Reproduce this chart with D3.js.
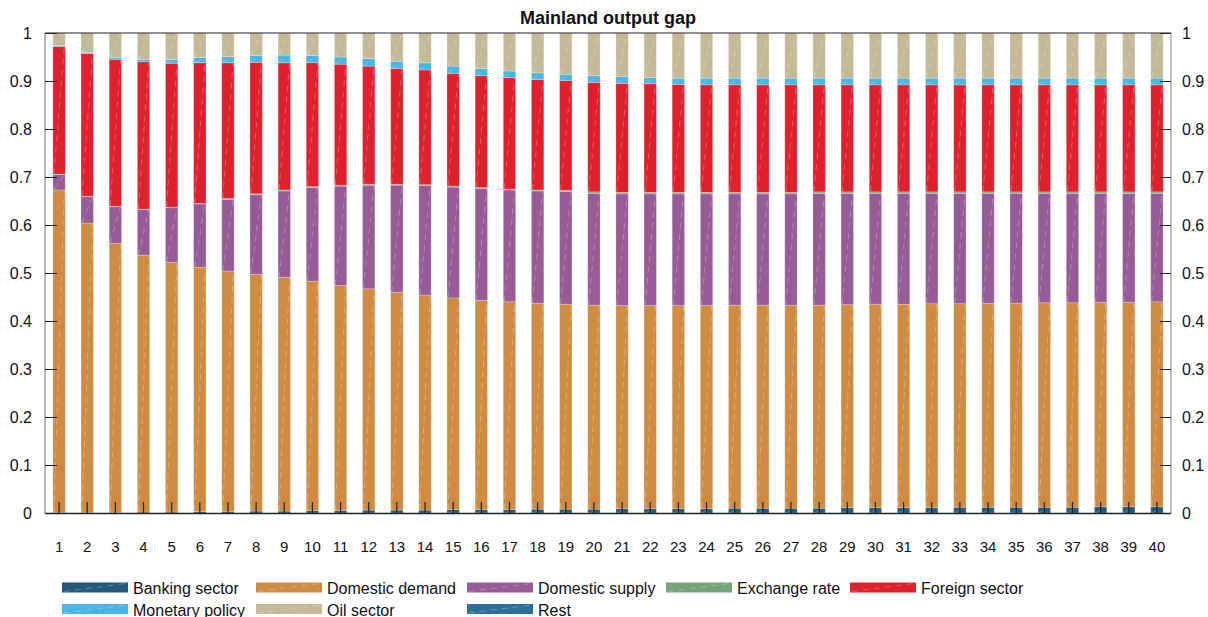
<!DOCTYPE html>
<html>
<head>
<meta charset="utf-8">
<script src="https://cdn.jsdelivr.net/npm/d3@7"></script>
<style>
  body { margin: 0; background: #fff; }
  text { font-family: "Liberation Sans", Arial, sans-serif; fill: #111; }
</style>
</head>
<body>
<script>
// horizons 1..40
var horizons = d3.range(1, 41);

// variance shares, one array per shock
var bankingSector = [0.001,0.001,0.001,0.002,0.002,0.003,0.003,0.004,0.004,0.005,
                     0.005,0.006,0.006,0.006,0.007,0.007,0.007,0.008,0.008,0.008,
                     0.009,0.009,0.009,0.009,0.010,0.010,0.010,0.010,0.011,0.011,
                     0.011,0.011,0.012,0.012,0.012,0.012,0.012,0.013,0.013,0.013];
var domesticDemand = [0.672,0.603,0.561,0.535,0.520,0.509,0.501,0.493,0.487,0.478,
                      0.469,0.461,0.454,0.448,0.441,0.436,0.433,0.429,0.427,0.425,
                      0.423,0.423,0.423,0.423,0.423,0.423,0.423,0.423,0.423,0.424,
                      0.424,0.425,0.424,0.425,0.425,0.426,0.426,0.426,0.426,0.427];
var domesticSupply = [0.032,0.055,0.076,0.095,0.114,0.132,0.149,0.166,0.180,0.195,
                      0.207,0.216,0.223,0.228,0.231,0.233,0.233,0.234,0.235,0.233,
                      0.233,0.233,0.233,0.233,0.232,0.232,0.232,0.233,0.232,0.231,
                      0.231,0.230,0.230,0.229,0.229,0.228,0.228,0.227,0.227,0.226];
var exchangeRate = [0.001,0.001,0.001,0.001,0.001,0.001,0.002,0.002,0.002,0.002,
                    0.002,0.002,0.002,0.002,0.002,0.002,0.002,0.002,0.002,0.003,
                    0.003,0.003,0.003,0.003,0.003,0.003,0.003,0.003,0.003,0.003,
                    0.003,0.003,0.003,0.003,0.003,0.003,0.003,0.003,0.003,0.003];
var foreignSector = [0.266,0.297,0.306,0.307,0.300,0.293,0.283,0.274,0.265,0.258,
                     0.252,0.246,0.241,0.239,0.235,0.233,0.232,0.230,0.229,0.228,
                     0.227,0.226,0.225,0.224,0.224,0.224,0.224,0.223,0.223,0.223,
                     0.223,0.223,0.223,0.223,0.223,0.223,0.223,0.223,0.223,0.223];
var monetaryPolicy = [0.002,0.002,0.004,0.005,0.008,0.011,0.013,0.014,0.016,0.015,
                      0.015,0.016,0.015,0.015,0.015,0.015,0.014,0.014,0.013,0.014,
                      0.014,0.013,0.013,0.014,0.014,0.014,0.014,0.014,0.014,0.014,
                      0.014,0.014,0.014,0.014,0.014,0.014,0.014,0.014,0.014,0.014];
var oilSector = [0.026,0.041,0.051,0.055,0.055,0.052,0.050,0.047,0.046,0.048,
                 0.050,0.054,0.059,0.064,0.069,0.074,0.079,0.083,0.087,0.089,
                 0.091,0.093,0.094,0.094,0.094,0.094,0.094,0.094,0.094,0.094,
                 0.094,0.094,0.094,0.094,0.094,0.094,0.094,0.094,0.094,0.094];
var rest = [0,0,0,0,0,0,0,0,0,0, 0,0,0,0,0,0,0,0,0,0,
            0,0,0,0,0,0,0,0,0,0, 0,0,0,0,0,0,0,0,0,0];

var seriesNames = ["Banking sector","Domestic demand","Domestic supply","Exchange rate",
                   "Foreign sector","Monetary policy","Oil sector","Rest"];
var seriesColors = ["#235a7b","#cf8b42","#975b97","#76a57a","#df202d","#4ab4e2","#c5b997","#2b6f97"];
var yTicks = [0,0.1,0.2,0.3,0.4,0.5,0.6,0.7,0.8,0.9,1];

var allSeries = [bankingSector, domesticDemand, domesticSupply, exchangeRate,
                 foreignSector, monetaryPolicy, oilSector, rest];

var width = 1208, height = 617;
var plotLeft = 45, plotRight = 1171, plotTop = 33, plotBottom = 513;

// rows for d3.stack
var table = horizons.map(function(h, i) {
    var row = {h: h};
    seriesNames.forEach(function(n, k) { row[n] = allSeries[k][i]; });
    return row;
});
var stacked = d3.stack().keys(seriesNames)(table);

var svg = d3.select("body").append("svg")
    .attr("width", width)
    .attr("height", height);

var x = d3.scaleBand().domain(horizons).range([plotLeft, plotRight]).paddingInner(0.56).paddingOuter(0.28);
var y = d3.scaleLinear().domain([0, 1]).range([plotBottom, plotTop]);

// title
svg.append("text")
    .attr("x", 608).attr("y", 24)
    .attr("text-anchor", "middle")
    .attr("font-size", 18).attr("font-weight", "bold")
    .text("Mainland output gap");

// bars
var layer = svg.selectAll("g.layer")
    .data(stacked).enter()
    .append("g").attr("class", "layer")
    .attr("fill", function(d, i) { return seriesColors[i]; });

layer.selectAll("rect")
    .data(function(d) { return d; }).enter()
    .append("rect")
    .attr("x", function(d) { return x(d.data.h); })
    .attr("y", function(d) { return y(Math.min(1, d[1])); })
    .attr("width", x.bandwidth())
    .attr("height", function(d) { return Math.max(0, y(d[0]) - y(Math.min(1, d[1]))); })
    .attr("stroke", "rgba(255,255,255,0.3)")
    .attr("stroke-width", 0.8);

// faint diagonal render streaks like the original export
layer.selectAll("line")
    .data(function(d) { return d.filter(function(s) { return y(s[0]) - y(s[1]) > 3; }); }).enter()
    .append("line")
    .attr("x1", function(d) { return x(d.data.h) + 1; })
    .attr("x2", function(d) { return x(d.data.h) + x.bandwidth() - 1; })
    .attr("y1", function(d) { return y(d[0]); })
    .attr("y2", function(d) { return y(Math.min(1, d[1])); })
    .attr("stroke", "rgba(255,255,255,0.35)")
    .attr("stroke-width", 0.8)
    .attr("stroke-dasharray", "6,5");

// frame
svg.append("line").attr("x1", plotLeft).attr("x2", plotRight).attr("y1", plotTop).attr("y2", plotTop)
    .attr("stroke", "#222").attr("stroke-width", 1.2);
svg.append("line").attr("x1", plotLeft).attr("x2", plotLeft).attr("y1", plotTop).attr("y2", plotBottom)
    .attr("stroke", "#888").attr("stroke-width", 1.2);
svg.append("line").attr("x1", plotRight).attr("x2", plotRight).attr("y1", plotTop).attr("y2", plotBottom)
    .attr("stroke", "#999").attr("stroke-width", 1.2);
svg.append("line").attr("x1", plotLeft).attr("x2", plotRight).attr("y1", plotBottom + 0.5).attr("y2", plotBottom + 0.5)
    .attr("stroke", "#222").attr("stroke-width", 1.5);

// left axis
var yLeft = svg.append("g").attr("transform", "translate(" + plotLeft + ",0)")
    .call(d3.axisRight(y).tickValues(yTicks).tickSize(12).tickFormat(d3.format("~g")));
yLeft.select(".domain").remove();
yLeft.selectAll(".tick line").attr("stroke", "#222");
yLeft.selectAll(".tick text")
    .attr("x", -13).attr("text-anchor", "end")
    .attr("font-size", 16).attr("font-family", "Liberation Sans, Arial, sans-serif").attr("fill", "#111");

// right axis
var yRight = svg.append("g").attr("transform", "translate(" + plotRight + ",0)")
    .call(d3.axisLeft(y).tickValues(yTicks).tickSize(11).tickFormat(d3.format("~g")));
yRight.select(".domain").remove();
yRight.selectAll(".tick line").attr("stroke", "#222");
yRight.selectAll(".tick text")
    .attr("x", 11).attr("text-anchor", "start")
    .attr("font-size", 16).attr("font-family", "Liberation Sans, Arial, sans-serif").attr("fill", "#111");

// x axis: ticks point up into the bars
var xAxis = svg.append("g").attr("transform", "translate(0," + plotBottom + ")")
    .call(d3.axisTop(x).tickSize(11));
xAxis.select(".domain").remove();
xAxis.selectAll(".tick line").attr("stroke", "#222").attr("stroke-width", 1.2);
xAxis.selectAll(".tick text")
    .attr("y", 39).attr("dy", 0)
    .attr("font-size", 15).attr("font-family", "Liberation Sans, Arial, sans-serif").attr("fill", "#111");

// legend: 5 columns, 2 rows
var legendCols = [62, 256, 467, 666, 850];
var legend = svg.append("g").attr("class", "legend");
seriesNames.forEach(function(name, i) {
    var col = i % 5, row = Math.floor(i / 5);
    var lx = legendCols[col], ly = 582.5 + row * 21.5;
    legend.append("rect")
        .attr("x", lx).attr("y", ly)
        .attr("width", 66).attr("height", 10)
        .attr("fill", seriesColors[i]);
    legend.append("line")
        .attr("x1", lx + 2).attr("x2", lx + 64)
        .attr("y1", ly + 9).attr("y2", ly + 1)
        .attr("stroke", "rgba(255,255,255,0.35)")
        .attr("stroke-width", 0.8)
        .attr("stroke-dasharray", "6,5");
    legend.append("text")
        .attr("x", lx + 71).attr("y", ly + 11.5)
        .attr("font-size", 16)
        .text(name);
});
</script>
</body>
</html>
